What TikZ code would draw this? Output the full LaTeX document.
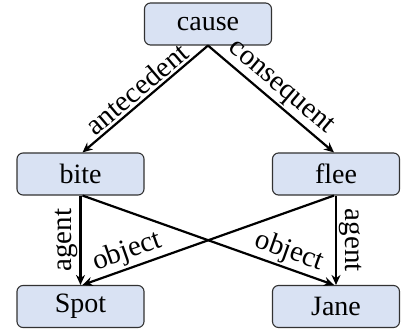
\documentclass[tikz,border=0pt]{standalone}
\usepackage{fontspec}
\setmainfont{Liberation Serif}
\newfontfamily\labfont{Liberation Serif}
\usetikzlibrary{arrows.meta}
\definecolor{boxfill}{RGB}{217,226,243}
\definecolor{boxline}{RGB}{50,50,50}
\begin{document}
\begin{tikzpicture}[x=1pt,y=1pt,
  every node/.style={font=\labfont\fontsize{28}{30}\selectfont},
  concept/.style={draw=boxline, line width=1.1pt, fill=boxfill, rounded corners=6pt,
    minimum width=127pt, minimum height=42pt, inner sep=0pt},
  rel/.style={-{Stealth[length=10pt,width=9pt]}, line width=2.2pt},
  lab/.style={inner sep=2pt, font=\labfont\fontsize{29}{30}\selectfont}]
\useasboundingbox (0,0) rectangle (401,335);
\node[concept] (cause) at (208,311) {cause};
\node[concept] (bite) at (80.5,161) {bite};
\node[concept] (flee) at (336,161) {flee};
\node[concept] (spot) at (80.5,28.5) {Spot};
\node[concept] (jane) at (336,28.5) {Jane};
\draw[rel] (cause.south) -- node[lab, midway, sloped, above] {antecedent} ([xshift=2pt]bite.north);
\draw[rel] (cause.south) -- node[lab, midway, sloped, above] {consequent} ([xshift=-2pt]flee.north);
\draw[rel] (bite.south) -- node[lab, midway, rotate=90, anchor=south] {agent} (spot.north);
\draw[rel] (flee.south) -- node[lab, midway, rotate=-90, anchor=south] {agent} (jane.north);
\draw[rel] ([xshift=2pt]bite.south) -- node[lab, pos=0.8, sloped, above] {object} ([xshift=-2pt]jane.north);
\draw[rel] ([xshift=-2pt]flee.south) -- node[lab, pos=0.8, sloped, above] {object} ([xshift=2pt]spot.north);
\end{tikzpicture}
\end{document}
